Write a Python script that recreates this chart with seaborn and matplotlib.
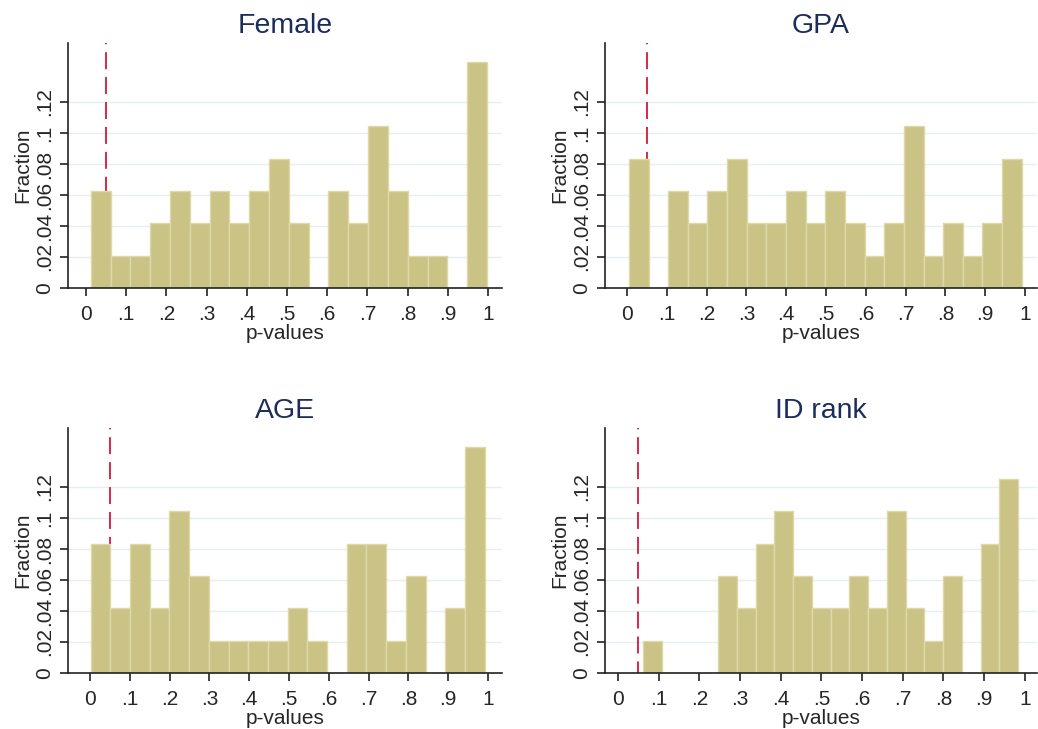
import numpy as np
import pandas as pd
import matplotlib
matplotlib.use('Agg')
import matplotlib.pyplot as plt
import seaborn as sns

# p-value histograms, 48 tests each, 20 bins
panels = ['Female', 'GPA', 'AGE', 'ID rank']
n_tests = 48

female_counts = [3, 1, 1, 2, 3, 2, 3, 2, 3, 4, 2, 0, 3, 2, 5, 3, 1, 1, 0, 7]
gpa_counts = [4, 0, 3, 2, 3, 4, 2, 2, 3, 2, 3, 2, 1, 2, 5, 1, 2, 1, 2, 4]
age_counts = [4, 2, 4, 2, 5, 3, 1, 1, 1, 1, 2, 1, 0, 4, 4, 1, 3, 0, 2, 7]
idrank_counts = [1, 0, 0, 0, 3, 2, 4, 5, 3, 2, 2, 3, 2, 5, 2, 1, 3, 0, 4, 6]

# smallest and largest p-value per panel (histogram range)
p_min = [0.0116, 0.005, 0.0017, 0.0613]
p_max = [0.9975, 0.9916, 0.9916, 0.9837]

counts = [female_counts, gpa_counts, age_counts, idrank_counts]

x_ticks = [0, .1, .2, .3, .4, .5, .6, .7, .8, .9, 1]
x_tick_labels = ['0', '.1', '.2', '.3', '.4', '.5', '.6', '.7', '.8', '.9', '1']
y_ticks = [0, .02, .04, .06, .08, .1, .12]
y_tick_labels = ['0', '.02', '.04', '.06', '.08', '.1', '.12']
alpha_level = 0.05

sns.set_style('white')
plt.rcParams['font.family'] = ['Liberation Sans', 'DejaVu Sans']

W, H = 1038, 729
fig = plt.figure(figsize=(W / 100, H / 100), dpi=100)

# axes boxes in pixels: left, right, top, bottom ; and x limits
boxes = [(68, 502, 43, 288), (605, 1037, 43, 288),
         (68, 502, 428, 673), (605, 1037, 428, 673)]
xlims = [(-0.045, 1.035), (-0.055, 1.03), (-0.055, 1.035), (-0.032, 1.03)]

bar_color = '#cbc386'
edge_color = '#dedaa8'
title_color = '#1c2d5c'

for i, name in enumerate(panels):
    l, r, t, b = boxes[i]
    ax = fig.add_axes([l / W, (H - b) / H, (r - l) / W, (b - t) / H])

    edges = np.linspace(p_min[i], p_max[i], 21)
    centers = (edges[:-1] + edges[1:]) / 2
    df = pd.DataFrame({'p': centers, 'frac': np.array(counts[i]) / n_tests})

    for yv in y_ticks[1:]:
        ax.axhline(yv, color='#e5eef1', lw=1.0, zorder=0)
    ax.axvline(alpha_level, color='#d4183c', lw=1.3, ls=(3, (9.4, 4.4)), zorder=1)

    sns.histplot(data=df, x='p', weights='frac', bins=edges.tolist(), ax=ax,
                 color=bar_color, edgecolor=edge_color, linewidth=1.0,
                 alpha=1, zorder=2)

    ax.set_xlim(*xlims[i])
    ax.set_ylim(0, 0.158)
    ax.set_xticks(x_ticks)
    ax.set_xticklabels(x_tick_labels, fontsize=15)
    ax.set_yticks(y_ticks)
    ax.set_yticklabels(y_tick_labels, fontsize=15, rotation=90, va='center')
    ax.tick_params(axis='both', direction='out', length=6, width=1.2, color='#222222',
                   left=True, bottom=True, pad=4)
    ax.tick_params(axis='x', pad=6.5)
    for s in ['top', 'right']:
        ax.spines[s].set_visible(False)
    for s in ['left', 'bottom']:
        ax.spines[s].set_color('#222222')
        ax.spines[s].set_linewidth(1.2)

    ax.set_xlabel('p-values', fontsize=15, labelpad=0)
    ax.set_ylabel('Fraction', fontsize=15, labelpad=2)
    ax.set_title(name, fontsize=20.5, color=title_color, pad=7)

plt.savefig('out.png', dpi=100)
